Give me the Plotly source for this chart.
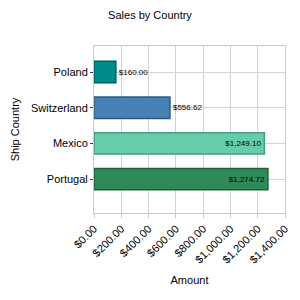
import plotly.graph_objects as go

countries = ["Portugal", "Mexico", "Switzerland", "Poland"]
amounts = [1274.72, 1249.10, 556.62, 160.00]
colors = ["#2E8B57", "#66CDAA", "#4682B4", "#008B8B"]
edge_colors = ["#1F5F3B", "#4A9C80", "#30597C", "#005F5F"]
labels = ["$1,274.72", "$1,249.10", "$556.62", "$160.00"]
label_positions = ["inside", "inside", "outside", "outside"]
tick_vals = [0, 200, 400, 600, 800, 1000, 1200, 1400]
tick_text = ["$0.00", "$200.00", "$400.00", "$600.00", "$800.00", "$1,000.00", "$1,200.00", "$1,400.00"]

fig = go.Figure()
fig.add_trace(go.Bar(
    x=amounts, y=countries, orientation="h",
    marker=dict(color=colors, line=dict(color=edge_colors, width=1.5)),
    width=0.6,
    text=labels, textposition=label_positions, insidetextanchor="end",
    textfont=dict(size=8, color="black", family="Liberation Sans"),
    outsidetextfont=dict(size=8, color="black"),
    insidetextfont=dict(size=8, color="black"),
    cliponaxis=False,
))

fig.update_layout(
    width=300, height=300,
    margin=dict(l=94, r=10, t=46, b=87),
    paper_bgcolor="white", plot_bgcolor="white",
    font=dict(family="Liberation Sans", size=11, color="black"),
    title=dict(text="Sales by Country", x=0.5, xanchor="center", y=0.95, yanchor="middle",
               font=dict(size=11)),
    showlegend=False,
    uniformtext=dict(minsize=7, mode="show"),
)
fig.update_xaxes(
    range=[0, 1400], tickvals=tick_vals, ticktext=tick_text, tickangle=-45,
    showgrid=True, gridcolor="#D3D3D3", gridwidth=1,
    showline=True, linecolor="#C8C8C8", mirror=True,
    ticks="outside", ticklen=4, tickcolor="#C8C8C8",
    tickfont=dict(size=11),
    title=dict(text="Amount", font=dict(size=11), standoff=11),
    zeroline=False, fixedrange=True,
)
fig.update_yaxes(
    range=[-0.95, 3.73],
    showgrid=True, gridcolor="#D3D3D3",
    showline=True, linecolor="#C8C8C8", mirror=True,
    ticks="outside", ticklen=3, tickcolor="#1F3F9F",
    tickfont=dict(size=11),
    title=dict(text="Ship Country", font=dict(size=11), standoff=9),
    fixedrange=True,
)

fig.write_html("out.html")
